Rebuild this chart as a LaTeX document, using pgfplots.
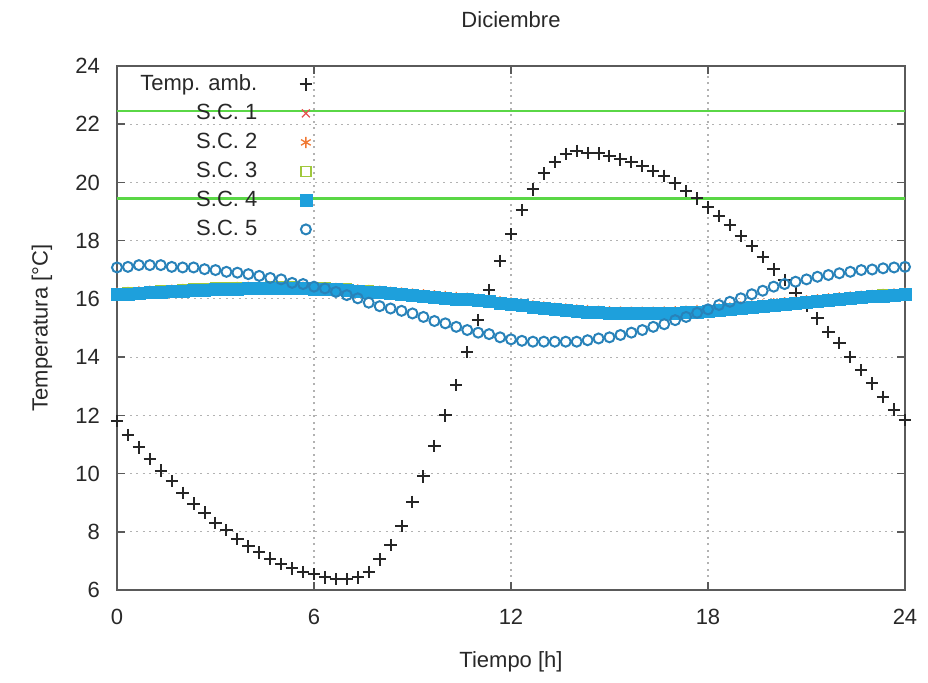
\documentclass[border=0pt]{standalone}
\usepackage{fontspec}
\setmainfont{Liberation Sans}
\usepackage{pgfplots}
\usepackage{pgfplotstable}
\pgfplotsset{compat=1.18}
\definecolor{scone}{RGB}{230,80,80}
\definecolor{sctwo}{RGB}{240,120,50}
\definecolor{scthree}{RGB}{160,200,60}
\definecolor{scfour}{RGB}{30,160,220}
\definecolor{scfive}{RGB}{40,130,185}
\definecolor{gline}{RGB}{90,215,70}
\definecolor{txt}{RGB}{40,40,40}
\definecolor{bord}{RGB}{90,90,90}
\pgfplotstableread{
t amb sc1 sc2 sc3 sc4 sc5
0 11.80 16.19 16.20 16.18 16.16 17.08
0.333 11.32 16.22 16.22 16.21 16.18 17.10
0.667 10.90 16.24 16.24 16.23 16.20 17.16
1 10.50 16.26 16.26 16.25 16.22 17.16
1.333 10.10 16.29 16.28 16.27 16.24 17.16
1.667 9.74 16.31 16.30 16.29 16.26 17.10
2 9.34 16.33 16.32 16.32 16.28 17.08
2.333 8.97 16.36 16.34 16.34 16.30 17.08
2.667 8.66 16.37 16.35 16.35 16.31 17.02
3 8.31 16.39 16.37 16.37 16.33 16.99
3.333 8.06 16.40 16.38 16.38 16.34 16.93
3.667 7.75 16.41 16.39 16.39 16.35 16.90
4 7.50 16.42 16.40 16.40 16.36 16.85
4.333 7.29 16.42 16.40 16.40 16.36 16.79
4.667 7.08 16.44 16.41 16.41 16.37 16.72
5 6.89 16.44 16.41 16.41 16.37 16.67
5.333 6.74 16.44 16.41 16.41 16.37 16.55
5.667 6.62 16.42 16.40 16.40 16.36 16.51
6 6.54 16.41 16.39 16.39 16.35 16.42
6.333 6.43 16.39 16.37 16.37 16.33 16.36
6.667 6.37 16.38 16.36 16.36 16.32 16.24
7 6.37 16.36 16.34 16.34 16.30 16.13
7.333 6.43 16.32 16.31 16.30 16.27 16.02
7.667 6.62 16.30 16.29 16.28 16.25 15.87
8 7.05 16.26 16.26 16.25 16.22 15.75
8.333 7.54 16.23 16.23 16.22 16.19 15.67
8.667 8.20 16.19 16.20 16.18 16.16 15.59
9 9.03 16.16 16.17 16.15 16.13 15.50
9.333 9.90 16.13 16.14 16.12 16.10 15.38
9.667 10.94 16.09 16.11 16.08 16.07 15.24
10 12.00 16.06 16.08 16.05 16.04 15.16
10.333 13.04 16.02 16.05 16.02 16.01 15.04
10.667 14.17 15.99 16.02 15.98 15.98 14.93
11 15.27 15.95 15.99 15.95 15.95 14.84
11.333 16.30 15.91 15.95 15.91 15.91 14.79
11.667 17.31 15.85 15.90 15.85 15.86 14.68
12 18.22 15.80 15.86 15.81 15.82 14.61
12.333 19.05 15.75 15.81 15.75 15.77 14.56
12.667 19.76 15.69 15.76 15.70 15.72 14.53
13 20.31 15.64 15.72 15.66 15.68 14.53
13.333 20.71 15.60 15.68 15.61 15.64 14.53
13.667 20.98 15.56 15.65 15.58 15.61 14.53
14 21.09 15.53 15.62 15.55 15.58 14.53
14.333 21.02 15.50 15.60 15.52 15.56 14.58
14.667 21.00 15.48 15.58 15.50 15.54 14.64
15 20.91 15.46 15.56 15.48 15.52 14.68
15.333 20.79 15.45 15.55 15.47 15.51 14.76
15.667 20.71 15.44 15.54 15.46 15.50 14.84
16 20.56 15.44 15.54 15.46 15.50 14.93
16.333 20.40 15.44 15.54 15.46 15.50 15.04
16.667 20.23 15.45 15.55 15.47 15.51 15.13
17 19.97 15.46 15.56 15.48 15.52 15.27
17.333 19.70 15.48 15.58 15.50 15.54 15.38
17.667 19.45 15.50 15.60 15.52 15.56 15.52
18 19.14 15.53 15.62 15.55 15.58 15.64
18.333 18.85 15.56 15.65 15.58 15.61 15.79
18.667 18.54 15.61 15.69 15.62 15.65 15.90
19 18.16 15.64 15.72 15.66 15.68 16.02
19.333 17.81 15.69 15.76 15.70 15.72 16.16
19.667 17.43 15.72 15.79 15.73 15.75 16.28
20 17.01 15.77 15.83 15.78 15.79 16.42
20.333 16.65 15.82 15.87 15.82 15.83 16.51
20.667 16.19 15.85 15.90 15.85 15.86 16.59
21 15.75 15.90 15.94 15.90 15.90 16.67
21.333 15.33 15.93 15.97 15.93 15.93 16.76
21.667 14.87 15.98 16.01 15.97 15.97 16.82
22 14.49 16.01 16.04 16.01 16.00 16.88
22.333 14.01 16.05 16.07 16.04 16.03 16.93
22.667 13.55 16.07 16.09 16.06 16.05 16.99
23 13.10 16.10 16.12 16.10 16.08 17.01
23.333 12.64 16.14 16.15 16.13 16.11 17.05
23.667 12.20 16.16 16.17 16.15 16.13 17.08
24 11.84 16.19 16.20 16.18 16.16 17.10
}\data
\begin{document}
\begin{tikzpicture}
\useasboundingbox (-58.5pt,-46pt) rectangle (405.5pt,295pt);
\begin{axis}[
  at={(0,0)}, anchor=south west,
  scale only axis, width=394pt, height=262pt,
  xmin=0, xmax=24, ymin=6, ymax=24,
  xtick={0,6,12,18,24}, ytick={6,8,...,24},
  clip=false,
  axis line style={bord, line width=1.2pt},
  tick align=inside, major tick length=4pt,
  every tick/.style={bord, line width=0.8pt},
  xtick pos=both, ytick pos=both,
  grid=major,
  major grid style={gray!60, line width=0.6pt, dash pattern=on 1pt off 2.2pt},
  /pgf/number format/assume math mode=true,
  tick label style={font=\fontsize{11}{13}\selectfont, text=txt},
  xticklabel style={yshift=-6pt},
  yticklabel style={xshift=-5pt},
  title={Diciembre},
  title style={at={(axis description cs:0.5,1.0649)}, anchor=center, font=\fontsize{11}{13}\selectfont, text=txt},
  xlabel={Tiempo [h]},
  xlabel style={at={(axis description cs:0.5,-0.1374)}, anchor=center, font=\fontsize{11}{13}\selectfont, text=txt},
  ylabel={Temperatura [°C]},
  ylabel style={at={(axis description cs:-0.0952,0.5)}, anchor=center, font=\fontsize{11}{13}\selectfont, text=txt},
  legend cell align=right,
  legend plot pos=right,
  legend image code/.code={\path (0,0) (0.95cm,0); \draw[#1] plot coordinates {(0.8cm,0cm)};},
  legend style={at={(axis description cs:0,1)}, anchor=north west, xshift=10.5pt, yshift=-3pt,
    draw=none, fill=none, inner sep=0pt, row sep=2.5pt,
    nodes={inner sep=1pt, text height=8pt, text depth=2pt, text=txt},
    font=\fontsize{11}{13}\selectfont},
]
\addplot[forget plot, gline, line width=1.1pt] coordinates {(0,22.45) (24,22.45)};
\addplot[forget plot, gline, line width=1.1pt] coordinates {(0,19.45) (24,19.45)};
\addplot[only marks, mark=+, mark size=3.1pt, black!85, line width=1pt] table[x=t, y=amb] {\data};
\addlegendentry{Temp. amb.}
\addplot[only marks, mark=x, mark size=2.8pt, scone, line width=0.65pt] table[x=t, y=sc1] {\data};
\addlegendentry{S.C. 1}
\addplot[only marks, mark=asterisk, mark size=2.8pt, sctwo, line width=0.65pt] table[x=t, y=sc2] {\data};
\addlegendentry{S.C. 2}
\addplot[only marks, mark=square, mark size=2.5pt, scthree, line width=0.65pt] table[x=t, y=sc3] {\data};
\addlegendentry{S.C. 3}
\addplot[only marks, mark=square*, mark size=3pt, scfour, mark options={fill=scfour, draw=scfour, line width=0.1pt}] table[x=t, y=sc4] {\data};
\addlegendentry{S.C. 4}
\addplot[only marks, mark=o, mark size=2.5pt, scfive, line width=1pt] table[x=t, y=sc5] {\data};
\addlegendentry{S.C. 5}
\end{axis}
\end{tikzpicture}
\end{document}
